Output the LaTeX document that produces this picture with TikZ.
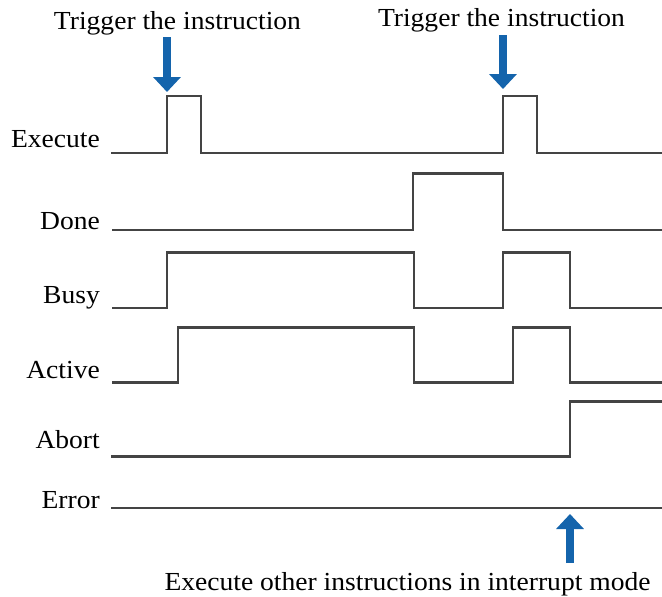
\documentclass[tikz,border=0pt]{standalone}
\usepackage{fontspec}
\setmainfont[FakeStretch=1.06]{Liberation Serif}
\usetikzlibrary{arrows.meta}
\definecolor{wave}{HTML}{444444}
\definecolor{arrowblue}{HTML}{1464AC}
\begin{document}
\begin{tikzpicture}[x=1pt,y=-1pt,
  wavestyle/.style={draw=wave,line width=2.6pt,line join=miter},
  lbl/.style={anchor=base east,inner sep=0pt,font=\fontsize{26}{29}\selectfont},
  note/.style={anchor=base,inner sep=0pt,font=\fontsize{26}{29}\selectfont},
  bluearrow/.style={draw=arrowblue,line width=8pt,-{Triangle[width=27pt,length=15pt]}}]
\useasboundingbox (0,0) rectangle (662,597);
% labels
\node[lbl] (lexec) at (100,147) {Execute};
\node[lbl] (ldone) at (100,229) {Done};
\node[lbl] (lbusy) at (100,303) {Busy};
\node[lbl] (lact) at (100,378) {Active};
\node[lbl] (labort) at (100,448) {Abort};
\node[lbl] (lerr) at (100,508) {Error};
% waveforms
\draw[wavestyle] (111,153) -- (167,153) -- (167,96) -- (201,96) -- (201,153) -- (503,153) -- (503,96) -- (537,96) -- (537,153) -- (662,153);
\draw[wavestyle] (112,230) -- (413,230) -- (413,173.5) -- (503,173.5) -- (503,230) -- (662,230);
\draw[wavestyle] (112,308) -- (167,308) -- (167,252.5) -- (414,252.5) -- (414,308) -- (503,308) -- (503,252.5) -- (570,252.5) -- (570,308) -- (662,308);
\draw[wavestyle] (112,382.5) -- (178,382.5) -- (178,327.5) -- (414,327.5) -- (414,382.5) -- (513,382.5) -- (513,327.5) -- (570,327.5) -- (570,382.5) -- (662,382.5);
\draw[wavestyle] (111,456.5) -- (570,456.5) -- (570,401.5) -- (662,401.5);
\draw[wavestyle] (111,508) -- (662,508);
% notes
\node[note] (trig1) at (177.5,30) {Trigger the instruction};
\node[note] (trig2) at (501.5,27) {Trigger the instruction};
\node[note] (other) at (407.5,590) {Execute other instructions in interrupt mode};
% arrows
\coordinate (a1s) at (167,37);
\coordinate (a1e) at (167,92);
\coordinate (a2s) at (503,35);
\coordinate (a2e) at (503,89);
\coordinate (a3s) at (570,563);
\coordinate (a3e) at (570,514);
\draw[bluearrow] (a1s) -- (a1e);
\draw[bluearrow] (a2s) -- (a2e);
\draw[bluearrow] (a3s) -- (a3e);
\end{tikzpicture}
\end{document}
